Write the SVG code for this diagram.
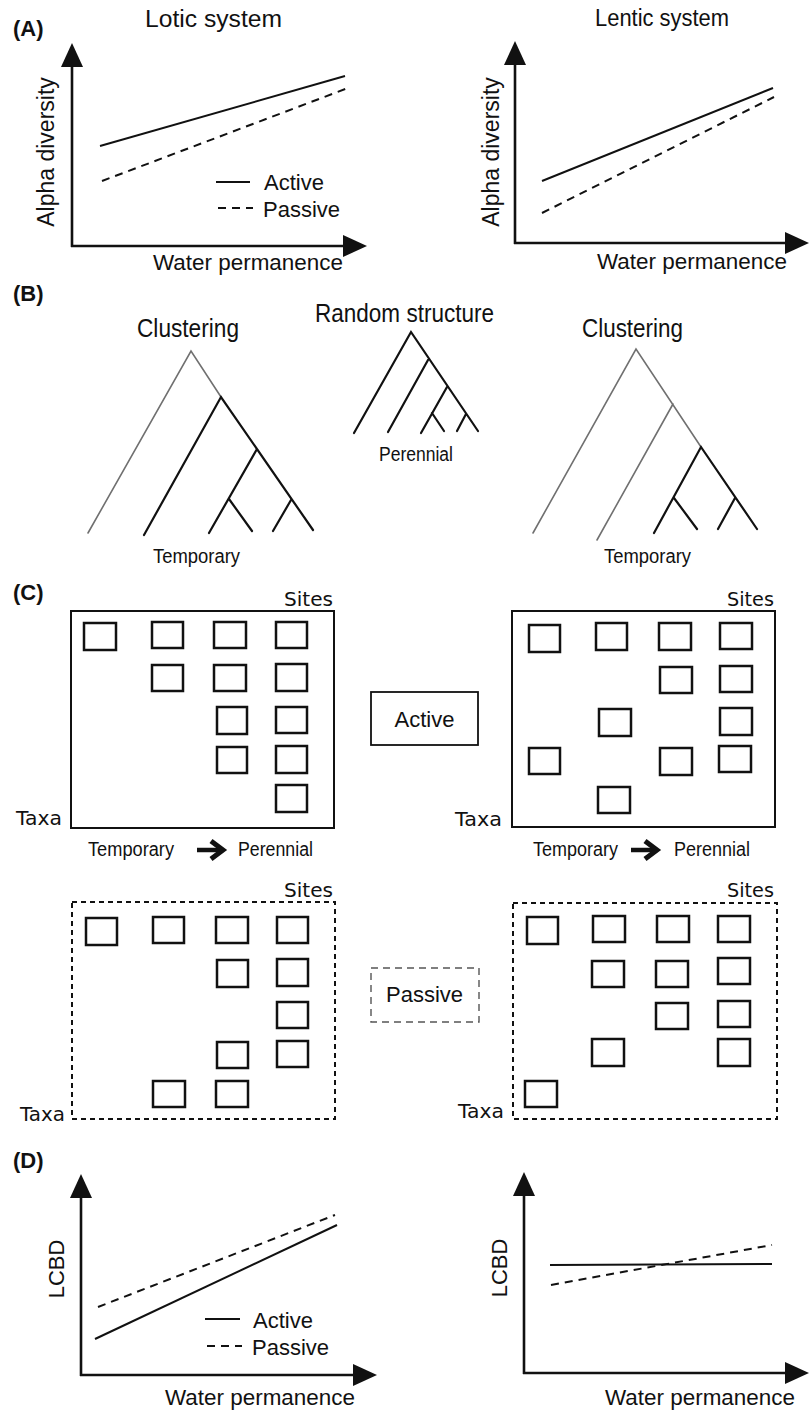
<svg xmlns="http://www.w3.org/2000/svg" width="810" height="1412" viewBox="0 0 810 1412">
<style>
text{font-family:"Liberation Sans",Arial,sans-serif;fill:#111}
.lbl{font-weight:bold;font-size:22px}
.t23{font-size:23px}
.t22{font-size:22px}
.t18{font-size:18px}
.tc{font-size:25px}
.tn{font-size:20px}
.dv{font-family:"DejaVu Sans","Liberation Sans",sans-serif;font-size:20px}
.axis{stroke:#111;stroke-width:2.6;fill:none}
.solid{stroke:#111;stroke-width:2;fill:none}
.dash{stroke:#111;stroke-width:2;fill:none;stroke-dasharray:8 6}
.tb{stroke:#111;stroke-width:2.2;fill:none;stroke-linecap:round}
.tg{stroke:#707070;stroke-width:1.6;fill:none;stroke-linecap:round}
.frame{stroke:#111;stroke-width:2;fill:none}
.dframe{stroke:#111;stroke-width:2;fill:none;stroke-dasharray:5 4}
.sq{stroke:#111;stroke-width:2.5;fill:none}
.pbox{stroke:#555;stroke-width:1.4;fill:none;stroke-dasharray:7 5}
</style>
<defs>
<marker id="ah" markerUnits="userSpaceOnUse" markerWidth="26" markerHeight="24" viewBox="0 -12 26 24" refX="1" refY="0" orient="auto">
<path d="M0,-11 L24,0 L0,11 z" fill="#111"/>
</marker>
</defs>

<!-- Panel A -->
<g id="panelA-left">
<text class="lbl" x="13" y="36">(A)</text>
<text class="t23" x="145" y="27" textLength="137" lengthAdjust="spacingAndGlyphs">Lotic system</text>
<line class="axis" x1="72" y1="247" x2="72" y2="66" marker-end="url(#ah)"/>
<line class="axis" x1="71" y1="246" x2="344" y2="246" marker-end="url(#ah)"/>
<text class="t23" text-anchor="middle" transform="translate(54,152) rotate(-90)">Alpha diversity</text>
<text class="t22" x="153" y="270" textLength="190" lengthAdjust="spacingAndGlyphs">Water permanence</text>
<line class="solid" x1="100" y1="146" x2="345" y2="76"/>
<line class="dash" x1="102" y1="181" x2="348" y2="88"/>
<line class="solid" x1="216" y1="182" x2="250" y2="182"/>
<line class="dash" x1="218" y1="208" x2="253" y2="208" stroke-dasharray="7 5"/>
<text class="t22" x="264" y="190">Active</text>
<text class="t22" x="263" y="217">Passive</text>
</g>
<g id="panelA-right">
<text class="t23" x="595" y="26" textLength="134" lengthAdjust="spacingAndGlyphs">Lentic system</text>
<line class="axis" x1="515" y1="244" x2="515" y2="64" marker-end="url(#ah)"/>
<line class="axis" x1="514" y1="243" x2="786" y2="243" marker-end="url(#ah)"/>
<text class="t23" text-anchor="middle" transform="translate(499,152) rotate(-90)">Alpha diversity</text>
<text class="t22" x="597" y="269" textLength="190" lengthAdjust="spacingAndGlyphs">Water permanence</text>
<line class="solid" x1="542" y1="181" x2="773" y2="88"/>
<line class="dash" x1="542" y1="213" x2="774" y2="97"/>
</g>

<!-- Panel B -->
<g id="panelB-left">
<text class="lbl" x="13" y="301">(B)</text>
<text class="tc" x="137" y="337" textLength="102" lengthAdjust="spacingAndGlyphs">Clustering</text>
<path class="tg" d="M88,533 L191,351 L221,397"/>
<path class="tb" d="M144,535 L221,397 L313,530 M257,449 L209,533 M229,499 L252,531 M291,500 L273,531"/>
<text class="tn" x="153" y="563" textLength="87" lengthAdjust="spacingAndGlyphs">Temporary</text>
</g>
<g id="panelB-middle">
<text class="tc" x="315" y="322" textLength="179" lengthAdjust="spacingAndGlyphs">Random structure</text>
<path class="tb" d="M354,433 L411,332 L478,431 M428,360 L388,432 M447,387 L421,433 M432,413 L444,431 M466,414 L457,431"/>
<text class="tn" x="379" y="461" textLength="74" lengthAdjust="spacingAndGlyphs">Perennial</text>
</g>
<g id="panelB-right">
<text class="tc" x="582" y="337" textLength="101" lengthAdjust="spacingAndGlyphs">Clustering</text>
<path class="tg" d="M533,533 L636,349 L701,447 M673,404 L597,540"/>
<path class="tb" d="M654,533 L701,447 L757,529 M674,498 L697,529 M735,498 L718,529"/>
<text class="tn" x="604" y="563" textLength="87" lengthAdjust="spacingAndGlyphs">Temporary</text>
</g>

<!-- Panel C -->
<g id="panelC-active-left">
<text class="lbl" x="13" y="600">(C)</text>
<text class="dv" x="284" y="606" textLength="49" lengthAdjust="spacingAndGlyphs">Sites</text>
<text class="dv" x="16" y="825" textLength="46" lengthAdjust="spacingAndGlyphs">Taxa</text>
<rect class="frame" x="71" y="611" width="263" height="217"/>
<rect class="sq" x="84" y="623" width="32" height="27"/>
<rect class="sq" x="152" y="622" width="31" height="26"/>
<rect class="sq" x="214" y="622" width="32" height="26"/>
<rect class="sq" x="276" y="622" width="31" height="26"/>
<rect class="sq" x="152" y="665" width="31" height="26"/>
<rect class="sq" x="214" y="665" width="32" height="26"/>
<rect class="sq" x="276" y="664" width="31" height="27"/>
<rect class="sq" x="217" y="707" width="30" height="27"/>
<rect class="sq" x="276" y="707" width="31" height="26"/>
<rect class="sq" x="217" y="747" width="30" height="26"/>
<rect class="sq" x="276" y="746" width="31" height="27"/>
<rect class="sq" x="276" y="785" width="31" height="27"/>
<text class="tn" x="88" y="856" textLength="86" lengthAdjust="spacingAndGlyphs">Temporary</text>
<line x1="197" y1="850" x2="220" y2="850" stroke="#111" stroke-width="4.5"/>
<polyline points="211,841 223,850 211,859" fill="none" stroke="#111" stroke-width="5"/>
<text class="tn" x="238" y="856" textLength="75" lengthAdjust="spacingAndGlyphs">Perennial</text>
</g>
<g id="active-box">
<rect x="371" y="692" width="107" height="53" fill="none" stroke="#111" stroke-width="1.8"/>
<text class="t22" x="424.5" y="727" text-anchor="middle">Active</text>
</g>
<g id="panelC-active-right">
<text class="dv" x="727" y="606" textLength="47" lengthAdjust="spacingAndGlyphs">Sites</text>
<text class="dv" x="455" y="826" textLength="47" lengthAdjust="spacingAndGlyphs">Taxa</text>
<rect class="frame" x="512" y="611" width="263" height="216"/>
<rect class="sq" x="529" y="625" width="31" height="27"/>
<rect class="sq" x="596" y="623" width="31" height="27"/>
<rect class="sq" x="659" y="623" width="32" height="27"/>
<rect class="sq" x="720" y="623" width="32" height="26"/>
<rect class="sq" x="660" y="667" width="32" height="26"/>
<rect class="sq" x="720" y="666" width="32" height="26"/>
<rect class="sq" x="599" y="709" width="32" height="27"/>
<rect class="sq" x="720" y="708" width="32" height="27"/>
<rect class="sq" x="529" y="748" width="31" height="26"/>
<rect class="sq" x="660" y="748" width="32" height="27"/>
<rect class="sq" x="719" y="746" width="32" height="26"/>
<rect class="sq" x="598" y="787" width="32" height="26"/>
<text class="tn" x="533" y="856" textLength="85" lengthAdjust="spacingAndGlyphs">Temporary</text>
<line x1="631" y1="850" x2="654" y2="850" stroke="#111" stroke-width="4.5"/>
<polyline points="645,841 657,850 645,859" fill="none" stroke="#111" stroke-width="5"/>
<text class="tn" x="674" y="856" textLength="76" lengthAdjust="spacingAndGlyphs">Perennial</text>
</g>
<g id="panelC-passive-left">
<text class="dv" x="284" y="897" textLength="49" lengthAdjust="spacingAndGlyphs">Sites</text>
<text class="dv" x="20" y="1121" textLength="45" lengthAdjust="spacingAndGlyphs">Taxa</text>
<rect class="dframe" x="72" y="902" width="263" height="217"/>
<rect class="sq" x="86" y="918" width="31" height="27"/>
<rect class="sq" x="153" y="917" width="31" height="26"/>
<rect class="sq" x="216" y="917" width="32" height="26"/>
<rect class="sq" x="277" y="917" width="31" height="26"/>
<rect class="sq" x="217" y="960" width="31" height="27"/>
<rect class="sq" x="277" y="959" width="31" height="27"/>
<rect class="sq" x="277" y="1002" width="31" height="26"/>
<rect class="sq" x="217" y="1042" width="31" height="26"/>
<rect class="sq" x="277" y="1041" width="31" height="26"/>
<rect class="sq" x="153" y="1081" width="32" height="26"/>
<rect class="sq" x="216" y="1081" width="32" height="26"/>
</g>
<g id="passive-box">
<rect class="pbox" x="371" y="968" width="108" height="54"/>
<text class="t22" x="424.5" y="1002" text-anchor="middle">Passive</text>
</g>
<g id="panelC-passive-right">
<text class="dv" x="727" y="897" textLength="47" lengthAdjust="spacingAndGlyphs">Sites</text>
<text class="dv" x="458" y="1118" textLength="46" lengthAdjust="spacingAndGlyphs">Taxa</text>
<rect class="dframe" x="513" y="903" width="264" height="216"/>
<rect class="sq" x="527" y="917" width="31" height="27"/>
<rect class="sq" x="593" y="916" width="32" height="26"/>
<rect class="sq" x="657" y="916" width="32" height="26"/>
<rect class="sq" x="718" y="916" width="32" height="26"/>
<rect class="sq" x="592" y="961" width="32" height="26"/>
<rect class="sq" x="656" y="961" width="32" height="26"/>
<rect class="sq" x="718" y="958" width="32" height="26"/>
<rect class="sq" x="656" y="1003" width="32" height="26"/>
<rect class="sq" x="718" y="1001" width="32" height="26"/>
<rect class="sq" x="592" y="1039" width="32" height="27"/>
<rect class="sq" x="718" y="1039" width="32" height="27"/>
<rect class="sq" x="525" y="1081" width="32" height="26"/>
</g>

<!-- Panel D -->
<g id="panelD-left">
<text class="lbl" x="13" y="1168">(D)</text>
<line class="axis" x1="81" y1="1376" x2="81" y2="1197" marker-end="url(#ah)"/>
<line class="axis" x1="80" y1="1375" x2="354" y2="1375" marker-end="url(#ah)"/>
<text class="t22" text-anchor="middle" transform="translate(64,1269) rotate(-90)">LCBD</text>
<text class="t22" x="165" y="1405" textLength="190" lengthAdjust="spacingAndGlyphs">Water permanence</text>
<line class="solid" x1="95" y1="1339" x2="337" y2="1225"/>
<line class="dash" x1="98" y1="1307" x2="335" y2="1215"/>
<line class="solid" x1="205" y1="1319" x2="240" y2="1319"/>
<line class="dash" x1="207" y1="1346" x2="242" y2="1346" stroke-dasharray="7 5"/>
<text class="t22" x="253" y="1328">Active</text>
<text class="t22" x="252" y="1355">Passive</text>
</g>
<g id="panelD-right">
<line class="axis" x1="524" y1="1374" x2="524" y2="1195" marker-end="url(#ah)"/>
<line class="axis" x1="523" y1="1373" x2="786" y2="1373" marker-end="url(#ah)"/>
<text class="t22" text-anchor="middle" transform="translate(507,1268) rotate(-90)">LCBD</text>
<text class="t22" x="605" y="1405" textLength="190" lengthAdjust="spacingAndGlyphs">Water permanence</text>
<line class="solid" x1="550" y1="1265" x2="772" y2="1264"/>
<line class="dash" x1="551" y1="1285" x2="772" y2="1245"/>
</g>
</svg>
